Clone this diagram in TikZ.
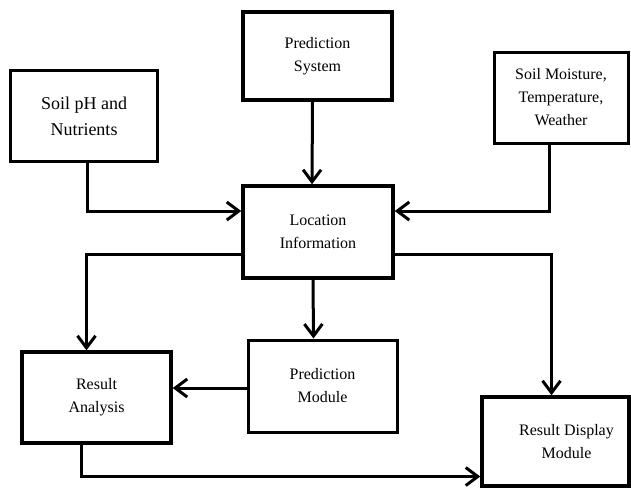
\documentclass[tikz,border=0pt]{standalone}
\usepackage{fontspec}
\setmainfont{Liberation Serif}
\usetikzlibrary{arrows.meta}
\begin{document}
\begin{tikzpicture}[x=1pt,y=-1pt]
		\tikzstyle{every node}+=[inner sep=0pt, align=center]
		\tikzstyle{block}=[draw, line width=3.5pt, font=\fontsize{16}{23}\selectfont]
		\tikzstyle{flow}=[line width=3pt, -{Straight Barb[length=12pt,width=18pt,line width=3pt]}]
		\useasboundingbox (0,0) rectangle (631,488);
		\node [block, minimum width=147pt, minimum height=91pt, font=\fontsize{18}{26}\selectfont] (soil) at (84,116) {Soil pH and\\Nutrients};
		\node [block, minimum width=149pt, minimum height=88pt] (predsys) at (317.5,56) {Prediction\\System};
		\node [block, line width=3pt, minimum width=134pt, minimum height=91pt] (moisture) at (561,97.5) {Soil Moisture,\\Temperature,\\Weather};
		\node [block, minimum width=150pt, minimum height=92pt] (loc) at (318,232) {Location\\Information};
		\node [block, line width=3pt, minimum width=149pt, minimum height=92pt] (predmod) at (322.5,386) {Prediction\\Module};
		\node [block, minimum width=149pt, minimum height=91pt] (result) at (96.5,397.5) {Result\\Analysis};
		\node [block, minimum width=147pt, minimum height=89pt, label={[xshift=11pt, font=\fontsize{16}{23}\selectfont, align=center]center:Result Display\\Module}] (display) at (555.5,441.5) {};
		
		\draw [flow] ([xshift=3pt]soil.south) |- ([yshift=21pt]loc.west);
		\draw [flow] ([xshift=-5pt]predsys.south) -- ([xshift=-6pt]loc.north);
		\draw [flow] ([xshift=-12pt]moisture.south) |- ([yshift=21pt]loc.east);
		\draw [flow] ([yshift=-22pt]loc.west) -| ([xshift=-10pt]result.north);
		\draw [flow] ([xshift=-5pt]loc.south) -- ([xshift=-9pt]predmod.north);
		\draw [flow] ([yshift=-22pt]loc.east) -| ([xshift=-4pt]display.north);
		\draw [flow] ([yshift=-2pt]predmod.west) -- ([yshift=-2pt]predmod.west -| result.east);
		\draw [flow] ([xshift=-15pt]result.south) |- ([yshift=-35pt]display.west);
		
	\end{tikzpicture}
\end{document}
